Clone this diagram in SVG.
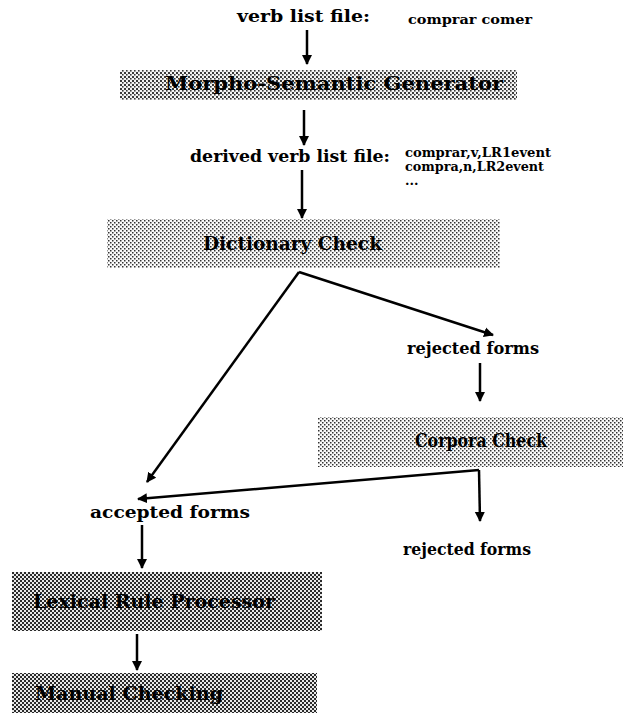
<svg xmlns="http://www.w3.org/2000/svg" width="626" height="713" viewBox="0 0 626 713">
<defs>
<pattern id="dark" width="4" height="4" patternUnits="userSpaceOnUse">
<rect width="4" height="4" fill="#e8e8e8"/>
<rect x="0" y="0" width="2" height="2" fill="#2a2a2a"/>
<rect x="2" y="2" width="2" height="2" fill="#2a2a2a"/>
</pattern>
<pattern id="mid" width="4" height="4" patternUnits="userSpaceOnUse">
<rect width="4" height="4" fill="#f4f4f4"/>
<rect x="0" y="0" width="2" height="2" fill="#3a3a3a"/>
<rect x="2" y="2" width="1.6" height="1.6" fill="#3a3a3a"/>
</pattern>
<pattern id="light" width="4" height="4" patternUnits="userSpaceOnUse">
<rect width="4" height="4" fill="#fafafa"/>
<rect x="0" y="0" width="1.5" height="1.5" fill="#333"/>
<rect x="2" y="2" width="1.5" height="1.5" fill="#333"/>
</pattern>
<marker id="ah" viewBox="0 0 10 10" refX="9" refY="5" markerWidth="4" markerHeight="4.5" orient="auto" markerUnits="strokeWidth">
<path d="M0,0 L10,5 L0,10 z" fill="#000"/>
</marker>
</defs>
<style>
text{font-family:"DejaVu Serif","Liberation Serif",serif;font-weight:bold;fill:#000}
.lbl{font-size:16px}
.small{font-size:13px}
.box{font-size:18px}
.ln{stroke:#000;stroke-width:2.5;fill:none;marker-end:url(#ah)}
</style>

<g id="verb-list">
<text class="lbl" x="237" y="22" textLength="133" lengthAdjust="spacingAndGlyphs">verb list file:</text>
<text class="small" x="408" y="24" textLength="124" lengthAdjust="spacingAndGlyphs">comprar comer</text>
</g>

<g id="morpho">
<rect x="120" y="70" width="397" height="30" fill="url(#mid)"/>
<text class="box" x="165" y="90" textLength="338" lengthAdjust="spacingAndGlyphs">Morpho-Semantic Generator</text>
</g>

<g id="derived">
<text class="lbl" x="190" y="162" textLength="200" lengthAdjust="spacingAndGlyphs">derived verb list file:</text>
<text class="small" x="405" y="157" textLength="146" lengthAdjust="spacingAndGlyphs">comprar,v,LR1event</text>
<text class="small" x="405" y="171" textLength="139" lengthAdjust="spacingAndGlyphs">compra,n,LR2event</text>
<text class="small" x="405" y="185">...</text>
</g>

<g id="dictionary">
<rect x="107" y="219" width="393" height="49" fill="url(#light)"/>
<text class="box" x="203" y="250" textLength="179" lengthAdjust="spacingAndGlyphs">Dictionary Check</text>
</g>

<g id="rejected1">
<text class="lbl" x="407" y="354" textLength="132" lengthAdjust="spacingAndGlyphs">rejected forms</text>
</g>

<g id="corpora">
<rect x="318" y="417" width="305" height="50" fill="url(#light)"/>
<text class="box" x="415" y="447" textLength="132" lengthAdjust="spacingAndGlyphs">Corpora Check</text>
</g>

<g id="accepted">
<text class="lbl" x="90" y="518" textLength="160" lengthAdjust="spacingAndGlyphs">accepted forms</text>
</g>

<g id="rejected2">
<text class="lbl" x="403" y="555" textLength="128" lengthAdjust="spacingAndGlyphs">rejected forms</text>
</g>

<g id="lexical">
<rect x="12" y="572" width="310" height="59" fill="url(#dark)"/>
<text class="box" x="33" y="608" textLength="242" lengthAdjust="spacingAndGlyphs">Lexical Rule Processor</text>
</g>

<g id="manual">
<rect x="12" y="673" width="305" height="40" fill="url(#dark)"/>
<text class="box" x="35" y="700" textLength="188" lengthAdjust="spacingAndGlyphs">Manual Checking</text>
</g>

<g id="connectors">
<line class="ln" x1="307" y1="30" x2="307" y2="64"/>
<line class="ln" x1="304" y1="110" x2="304" y2="145"/>
<line class="ln" x1="302" y1="170" x2="302" y2="218"/>
<polyline class="ln" points="299,272 493,335"/>
<line class="ln" x1="299" y1="272" x2="147" y2="482"/>
<line class="ln" x1="480" y1="363" x2="480" y2="401"/>
<polyline class="ln" points="479,470 138,499"/>
<polyline class="ln" points="479,470 480,521"/>
<line class="ln" x1="142" y1="525" x2="142" y2="568"/>
<line class="ln" x1="137" y1="634" x2="137" y2="670"/>
</g>
</svg>
